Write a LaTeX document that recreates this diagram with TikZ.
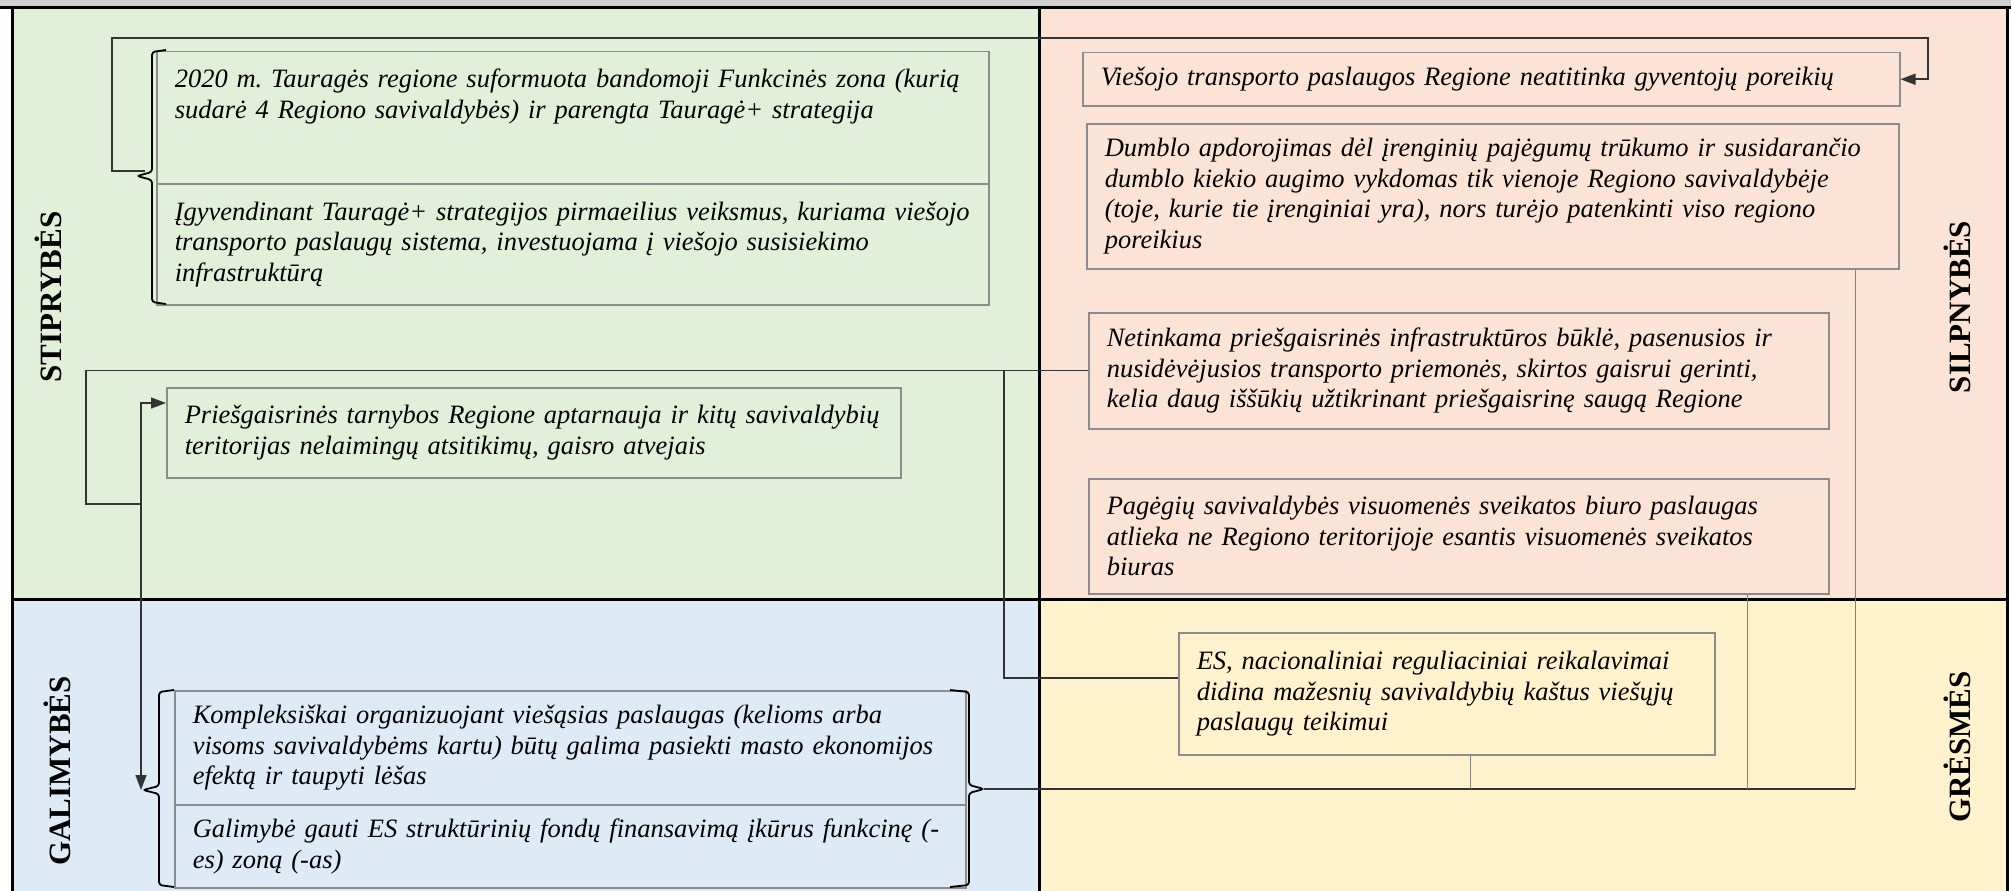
\documentclass[tikz,border=0pt]{standalone}
\usepackage{fontspec}
\setmainfont{Liberation Serif}
\usepackage{tikz}
\usetikzlibrary{arrows.meta, calc}
\frenchspacing

\definecolor{bandgray}{HTML}{D0CECE}
\definecolor{strgreen}{HTML}{E2EFD9}
\definecolor{weakpink}{HTML}{FBE4D5}
\definecolor{oppblue}{HTML}{DEEAF6}
\definecolor{thryellow}{HTML}{FFF2CC}
\definecolor{boxgray}{HTML}{8C8C8C}

\tikzset{
  fact/.style={draw=boxgray, line width=1.5pt, anchor=north west, align=left,
    inner xsep=18pt, inner ysep=4pt, font=\fontsize{26.5}{30.5}\selectfont\itshape},
  swot/.style={rotate=90, font=\fontsize{31}{31}\selectfont\bfseries},
  link/.style={draw=black!80, line width=1.2pt},
  feed/.style={draw=gray, line width=1pt},
  grp/.style={draw=black, line width=1.8pt, rounded corners=3pt},
  fwd/.style={-{Triangle[length=15pt,width=11pt]}},
}

\begin{document}
\begin{tikzpicture}[x=1pt, y=-1pt]
\useasboundingbox (0,0) rectangle (2011,891);
\fill[bandgray] (0,0) rectangle (2011,8);
\fill[strgreen] (12,8) rectangle (1039,599);
\fill[weakpink] (1039,8) rectangle (2007,599);
\fill[oppblue] (12,599) rectangle (1039,891);
\fill[thryellow] (1039,599) rectangle (2007,891);
\draw[line width=3pt] (0,8) -- (2011,8);
\foreach \x in {12,1039,2007} \draw[line width=3pt] (\x,8) -- (\x,891);
\draw[line width=3pt] (12,599) -- (2007,599);

\node[swot] (lstr) at (48,297) {STIPRYBĖS};
\node[swot] (lweak) at (1957,307) {SILPNYBĖS};
\node[swot] (lopp) at (57,771) {GALIMYBĖS};
\node[swot] (lthr) at (1957,747) {GRĖSMĖS};

\node[fact, text width=796pt, minimum height=132pt, text height=32pt, text depth=92pt] (s1) at (156,51)
  {2020 m. Tauragės regione suformuota bandomoji Funkcinės zona (kurią\\sudarė 4 Regiono savivaldybės) ir parengta Tauragė+ strategija};
\node[fact, text width=796pt, minimum height=121pt] (s2) at (156,183)
  {Įgyvendinant Tauragė+ strategijos pirmaeilius veiksmus, kuriama viešojo\\transporto paslaugų sistema, investuojama į viešojo susisiekimo\\infrastruktūrą};
\node[fact, text width=698pt, minimum height=90pt] (s3) at (166,387)
  {Priešgaisrinės tarnybos Regione aptarnauja ir kitų savivaldybių\\teritorijas nelaimingų atsitikimų, gaisro atvejais};

\node[fact, text width=781pt, minimum height=53pt] (w1) at (1082,52)
  {Viešojo transporto paslaugos Regione neatitinka gyventojų poreikių};
\node[fact, text width=776pt, minimum height=145pt] (w2) at (1086,123)
  {Dumblo apdorojimas dėl įrenginių pajėgumų trūkumo ir susidarančio\\dumblo kiekio augimo vykdomas tik vienoje Regiono savivaldybėje\\(toje, kurie tie įrenginiai yra), nors turėjo patenkinti viso regiono\\poreikius};
\node[fact, text width=704pt, minimum height=116pt] (w3) at (1088,312)
  {Netinkama priešgaisrinės infrastruktūros būklė, pasenusios ir\\nusidėvėjusios transporto priemonės, skirtos gaisrui gerinti,\\kelia daug iššūkių užtikrinant priešgaisrinę saugą Regione};
\node[fact, text width=704pt, minimum height=115pt] (w4) at (1088,478)
  {Pagėgių savivaldybės visuomenės sveikatos biuro paslaugas\\atlieka ne Regiono teritorijoje esantis visuomenės sveikatos\\biuras};

\node[fact, text width=500pt, minimum height=122pt] (t1) at (1178,632)
  {ES, nacionaliniai reguliaciniai reikalavimai\\didina mažesnių savivaldybių kaštus viešųjų\\paslaugų teikimui};

\node[fact, text width=755pt, minimum height=114pt] (o1) at (174,690)
  {Kompleksiškai organizuojant viešąsias paslaugas (kelioms arba\\visoms savivaldybėms kartu) būtų galima pasiekti masto ekonomijos\\efektą ir taupyti lėšas};
\node[fact, text width=755pt, minimum height=83pt] (o2) at (174,804)
  {Galimybė gauti ES struktūrinių fondų finansavimą įkūrus funkcinę (-\\es) zoną (-as)};

\draw[grp] (166,50) -- (152,52) -- (152,172) -- (137,176) -- (152,180) -- (152,302) -- (166,304);
\draw[grp] (174,690) -- (159,692) -- (159,786) -- (143,790) -- (159,794) -- (159,885) -- (174,887);
\draw[grp] (950,690) -- (969,692) -- (969,785) -- (984,789) -- (969,793) -- (969,885) -- (950,887);
\coordinate (sgrp) at (145,171);
\coordinate (ogrpL) at (141,790);
\coordinate (ogrpR) at (984,789);
\coordinate (fork) at (141,504);
\coordinate (tee) at (1004,370);
\coordinate (rail) at (1855,789);

\draw[link, line width=1.8pt, fwd] (sgrp) -| (112,38) -- (1928,38) |- (w1.east);
\draw[link] (w3.west) -| (86,504) -- (fork);
\draw[link, fwd] (fork) |- (s3.west |- 0,403);
\draw[link, fwd] (fork) -- (ogrpL);
\draw[link] (tee) |- (t1.west |- 0,678);
\draw[link, line width=2pt] (ogrpR) -- (rail);
\foreach \n/\x in {w2/1855, w4/1747, t1/1470} \draw[feed] (\n.south -| \x,0) -- (\x,789);
\end{tikzpicture}
\end{document}
